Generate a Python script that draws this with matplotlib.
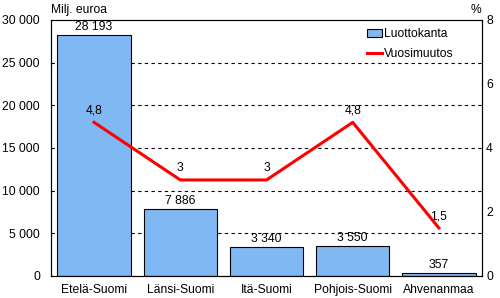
import matplotlib
matplotlib.use("Agg")
import matplotlib.pyplot as plt
from matplotlib.ticker import FuncFormatter
from matplotlib.patches import Patch
from matplotlib.lines import Line2D

plt.rcParams['font.family'] = ['Liberation Sans', 'DejaVu Sans']
FS = 8.7
plt.rcParams['font.size'] = FS

categories = ["Etelä-Suomi", "Länsi-Suomi", "Itä-Suomi", "Pohjois-Suomi", "Ahvenanmaa"]
luottokanta = [28193, 7886, 3340, 3550, 357]
vuosimuutos = [4.8, 3.0, 3.0, 4.8, 1.5]
left_ticks = [0, 5000, 10000, 15000, 20000, 25000, 30000]
right_ticks = [0, 2, 4, 6, 8]

def fmt_thousands(v):
    s = f"{int(round(v)):,}".replace(",", " ")
    return s

def fmt_pct(v):
    if abs(v - round(v)) < 1e-9:
        return str(int(round(v)))
    return f"{v:.1f}".replace(".", ",")

fig = plt.figure(figsize=(5.0, 2.98), dpi=100)
ax = fig.add_axes([0.102, 0.074, 0.862, 0.859])
x = list(range(len(categories)))

for yv in left_ticks[1:-1]:
    ax.axhline(yv, color='black', linestyle=(0, (3, 3)), linewidth=0.8, zorder=0)

bars = ax.bar(x, luottokanta, width=0.85, color='#80b8f4', edgecolor='black', linewidth=0.8, zorder=2)
for xi, v in zip(x, luottokanta):
    ax.text(xi, v + 250, fmt_thousands(v), ha='center', va='bottom', fontsize=FS, zorder=5)

ax.set_xlim(-0.5, len(categories) - 0.5)
ax.set_ylim(0, 30000)
ax.set_yticks(left_ticks)
ax.yaxis.set_major_formatter(FuncFormatter(lambda v, p: fmt_thousands(v)))
ax.set_xticks(x)
ax.set_xticklabels(categories)
ax.tick_params(axis='x', length=0, pad=6)
ax.tick_params(axis='y', length=0, pad=8)
for s in ax.spines.values():
    s.set_linewidth(0.8)

ax2 = ax.twinx()
ax2.plot(x, vuosimuutos, color='#ff0000', linewidth=2.2, zorder=4)
for xi, v in zip(x, vuosimuutos):
    ax2.annotate(fmt_pct(v), (xi, v), xytext=(0, 4), textcoords='offset points',
                 ha='center', va='bottom', fontsize=FS)
ax2.set_ylim(0, 8)
ax2.set_yticks(right_ticks)
ax2.tick_params(axis='y', length=0, pad=3)
for s in ax2.spines.values():
    s.set_linewidth(0.8)

fig.text(0.102, 0.945, "Milj. euroa", ha='left', va='bottom', fontsize=FS)
fig.text(0.962, 0.945, "%", ha='right', va='bottom', fontsize=FS)

handles = [Patch(facecolor='#80b8f4', edgecolor='black', linewidth=0.8),
           Line2D([0], [0], color='#ff0000', linewidth=2.2)]
ax2.legend(handles, ["Luottokanta", "Vuosimuutos"], loc='upper right',
           bbox_to_anchor=(0.95, 0.995), frameon=False, fontsize=FS,
           handlelength=1.3, handletextpad=0.1, borderaxespad=0.2, labelspacing=0.6)

fig.savefig("out.png", dpi=100)
